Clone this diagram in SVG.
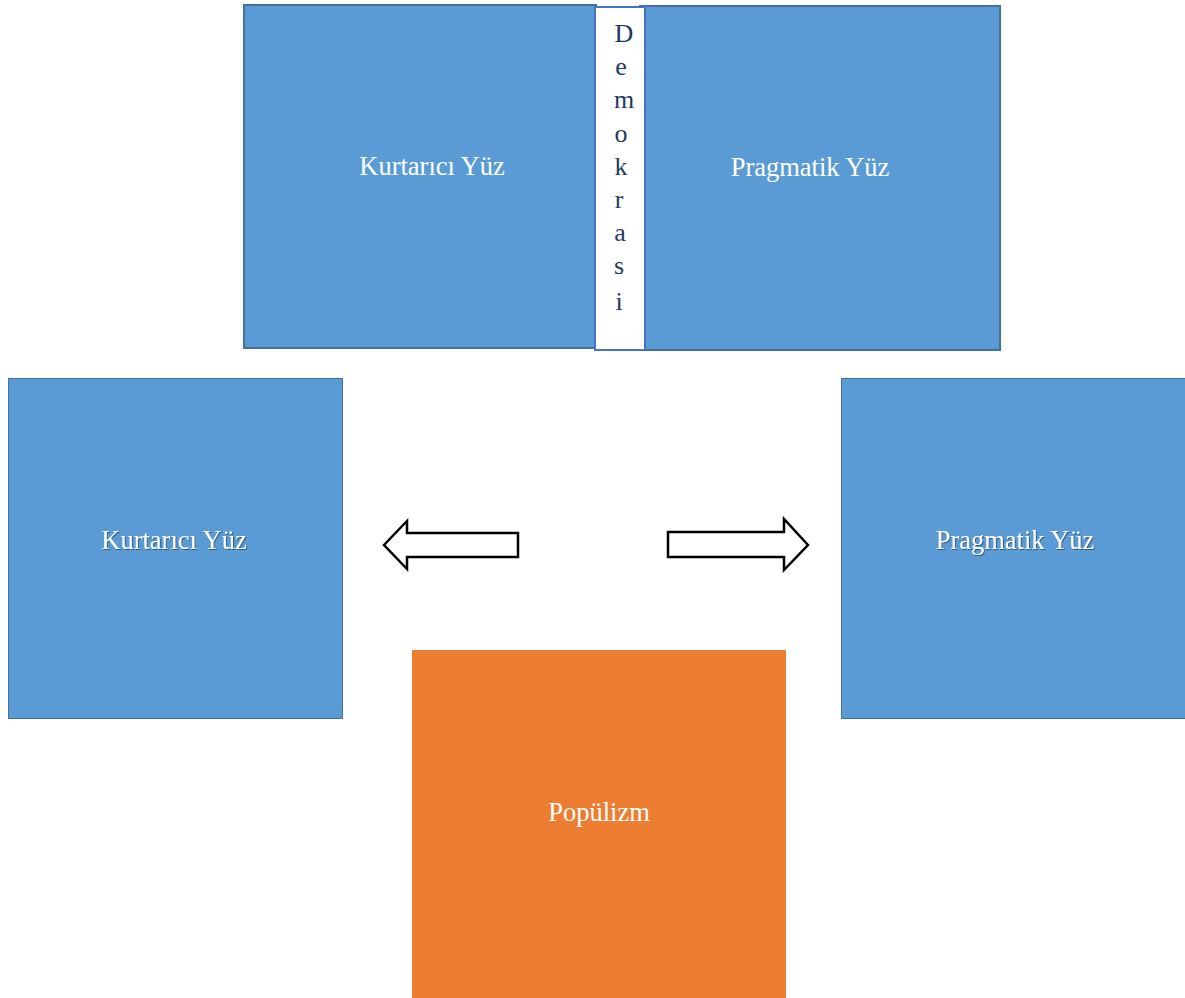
<svg xmlns="http://www.w3.org/2000/svg" width="1185" height="998" viewBox="0 0 1185 998">
<style>
.blue{fill:#5b9bd5;stroke:#41719c;stroke-width:2}
.blue2{fill:#5b9bd5;stroke:#41719c;stroke-width:1}
.org{fill:#ed7d31}
.lbl{font-family:"Liberation Serif","Times New Roman",serif;font-size:26.5px;fill:#ffffff;text-anchor:middle}
.emb{filter:url(#sh)}
.vt{font-family:"Liberation Serif","Times New Roman",serif;font-size:26px;fill:#1f3864;text-anchor:middle}
.arr{fill:#ffffff;stroke:#000000;stroke-width:2.5;stroke-linejoin:miter}
</style>
<defs>
<filter id="sh" x="-10%" y="-30%" width="120%" height="160%">
<feDropShadow dx="1" dy="1" stdDeviation="0.6" flood-color="#1f3864" flood-opacity="0.7"/>
</filter>
</defs>
<g id="top-left">
<rect class="blue" x="244" y="5" width="352" height="343"/>
<text class="lbl" x="432" y="175">Kurtarıcı Yüz</text>
</g>
<g id="top-right">
<rect class="blue" x="640" y="6" width="360" height="344"/>
<text class="lbl" x="810" y="176">Pragmatik Yüz</text>
</g>
<g id="demokrasi">
<rect x="595" y="7" width="50" height="343" fill="#ffffff" stroke="#4472c4" stroke-width="2"/>
<text class="vt" x="624" y="42">D</text>
<text class="vt" x="621" y="75">e</text>
<text class="vt" x="624" y="108">m</text>
<text class="vt" x="621" y="142">o</text>
<text class="vt" x="621" y="175">k</text>
<text class="vt" x="619" y="208">r</text>
<text class="vt" x="620" y="241">a</text>
<text class="vt" x="619" y="274">s</text>
<text class="vt" x="619" y="310">i</text>
</g>
<g id="mid-left">
<rect class="blue2" x="8.5" y="378.5" width="334" height="340"/>
<text class="lbl emb" x="174" y="549" font-size="25.5">Kurtarıcı Yüz</text>
</g>
<g id="mid-right">
<rect class="blue2" x="841.5" y="378.5" width="345" height="340"/>
<text class="lbl emb" x="1015" y="549" font-size="25.5">Pragmatik Yüz</text>
</g>
<g id="populizm">
<rect class="org" x="412" y="650" width="374" height="348"/>
<text class="lbl" x="599" y="821">Popülizm</text>
</g>
<g id="connectors">
<polygon class="arr" points="384,545 407,521 407,533 518,533 518,557 407,557 407,569"/>
<polygon class="arr" points="808,545 784,519 784,532 668,532 668,557 784,557 784,570"/>
</g>
</svg>
